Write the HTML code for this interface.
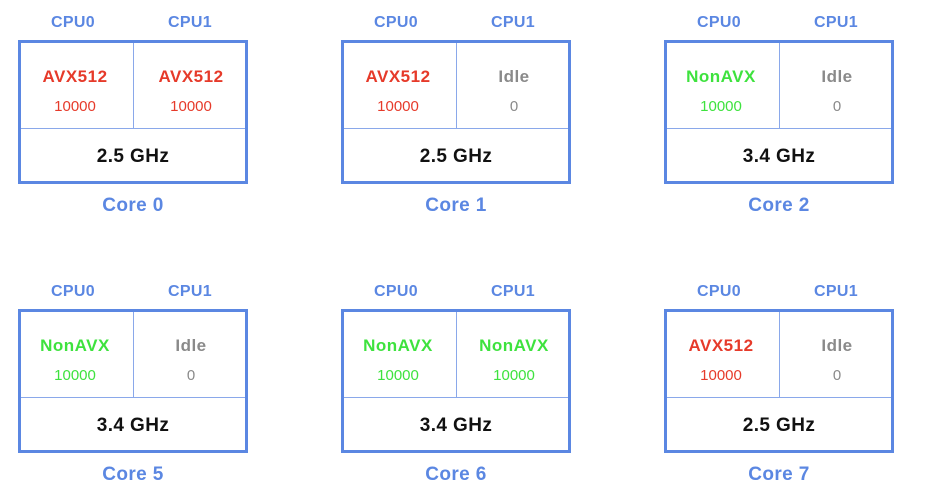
<!DOCTYPE html>
<html><head><style>
body{margin:0;width:937px;height:496px;background:#fff;position:relative;overflow:hidden;font-family:"Liberation Sans",Arial,sans-serif;font-weight:bold}
.c{position:absolute;width:230px;height:220px}
.b{position:absolute;left:0;top:40px;width:224px;height:138px;border:3px solid #5b87e2}
.v{position:absolute;left:115px;top:43px;width:1px;height:86px;background:#8aa8ea}
.h{position:absolute;left:3px;top:128px;width:224px;height:1px;background:#8aa8ea}
.t{position:absolute;text-align:center;transform:translateX(-50%);white-space:nowrap}
.cpu{top:14px;font-size:16px;color:#5b87e2;letter-spacing:0.3px}
.st{top:67px;font-size:17px;letter-spacing:0.5px}
.n{top:98px;font-size:15px;font-weight:normal}
.g{top:146px;left:115px;font-size:19px;color:#111;letter-spacing:0.4px}
.core{top:195px;left:115px;font-size:19px;color:#5b87e2;letter-spacing:0.4px}
.r{color:#e63a2a}.gr{color:#3ee23e}.i{color:#8a8a8a}
</style></head><body>

<div class="c" style="left:18px;top:0">
<div class="b"></div><div class="v"></div><div class="h"></div>
<div class="t cpu" style="left:55px">CPU0</div><div class="t cpu" style="left:172px">CPU1</div>
<div class="t st r" style="left:57px">AVX512</div><div class="t st r" style="left:173px">AVX512</div>
<div class="t n r" style="left:57px">10000</div><div class="t n r" style="left:173px">10000</div>
<div class="t g">2.5 GHz</div><div class="t core">Core 0</div></div>

<div class="c" style="left:341px;top:0">
<div class="b"></div><div class="v"></div><div class="h"></div>
<div class="t cpu" style="left:55px">CPU0</div><div class="t cpu" style="left:172px">CPU1</div>
<div class="t st r" style="left:57px">AVX512</div><div class="t st i" style="left:173px">Idle</div>
<div class="t n r" style="left:57px">10000</div><div class="t n i" style="left:173px">0</div>
<div class="t g">2.5 GHz</div><div class="t core">Core 1</div></div>

<div class="c" style="left:664px;top:0">
<div class="b"></div><div class="v"></div><div class="h"></div>
<div class="t cpu" style="left:55px">CPU0</div><div class="t cpu" style="left:172px">CPU1</div>
<div class="t st gr" style="left:57px">NonAVX</div><div class="t st i" style="left:173px">Idle</div>
<div class="t n gr" style="left:57px">10000</div><div class="t n i" style="left:173px">0</div>
<div class="t g">3.4 GHz</div><div class="t core">Core 2</div></div>

<div class="c" style="left:18px;top:269px">
<div class="b"></div><div class="v"></div><div class="h"></div>
<div class="t cpu" style="left:55px">CPU0</div><div class="t cpu" style="left:172px">CPU1</div>
<div class="t st gr" style="left:57px">NonAVX</div><div class="t st i" style="left:173px">Idle</div>
<div class="t n gr" style="left:57px">10000</div><div class="t n i" style="left:173px">0</div>
<div class="t g">3.4 GHz</div><div class="t core">Core 5</div></div>

<div class="c" style="left:341px;top:269px">
<div class="b"></div><div class="v"></div><div class="h"></div>
<div class="t cpu" style="left:55px">CPU0</div><div class="t cpu" style="left:172px">CPU1</div>
<div class="t st gr" style="left:57px">NonAVX</div><div class="t st gr" style="left:173px">NonAVX</div>
<div class="t n gr" style="left:57px">10000</div><div class="t n gr" style="left:173px">10000</div>
<div class="t g">3.4 GHz</div><div class="t core">Core 6</div></div>

<div class="c" style="left:664px;top:269px">
<div class="b"></div><div class="v"></div><div class="h"></div>
<div class="t cpu" style="left:55px">CPU0</div><div class="t cpu" style="left:172px">CPU1</div>
<div class="t st r" style="left:57px">AVX512</div><div class="t st i" style="left:173px">Idle</div>
<div class="t n r" style="left:57px">10000</div><div class="t n i" style="left:173px">0</div>
<div class="t g">2.5 GHz</div><div class="t core">Core 7</div></div>

</body></html>
